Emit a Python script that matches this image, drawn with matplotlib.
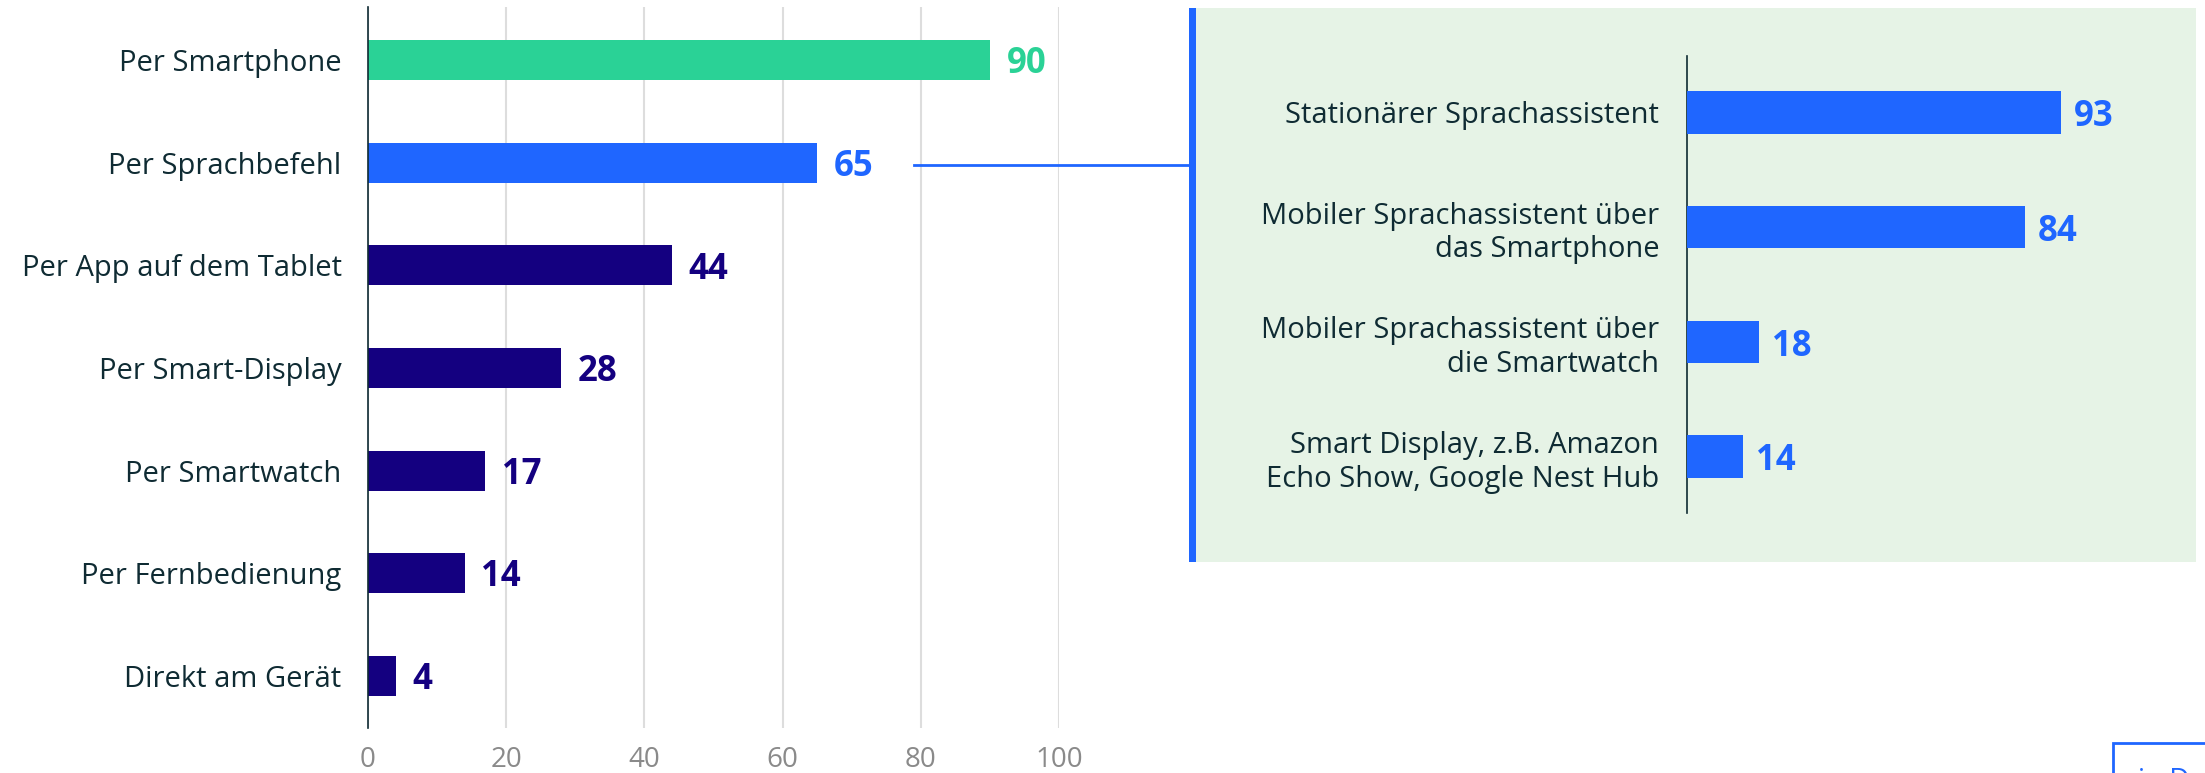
import matplotlib
matplotlib.use("Agg")
import matplotlib.pyplot as plt
from matplotlib.patches import Rectangle
from matplotlib.lines import Line2D

plt.rcParams['font.family'] = ['Open Sans', 'DejaVu Sans']

# ---- data ----
main_categories = ["Per Smartphone", "Per Sprachbefehl", "Per App auf dem Tablet",
                   "Per Smart-Display", "Per Smartwatch", "Per Fernbedienung",
                   "Direkt am Gerät"]
main_values = [90, 65, 44, 28, 17, 14, 4]
main_ticks = [0, 20, 40, 60, 80, 100]

inset_categories = ["Stationärer Sprachassistent",
                    "Mobiler Sprachassistent über\ndas Smartphone",
                    "Mobiler Sprachassistent über\ndie Smartwatch",
                    "Smart Display, z.B. Amazon\nEcho Show, Google Nest Hub"]
inset_values = [93, 84, 18, 14]

# ---- style ----
GREEN = "#2AD296"
BLUE = "#1F66FF"
NAVY = "#140080"
TEXT = "#0F2B33"
GRAY = "#8A8A8A"
GRID = "#DDDDDD"
PANEL = "#E6F3E6"

W, H = 2205, 773
fig = plt.figure(figsize=(W / 100, H / 100), dpi=100)

def fx(px):
    return px / W

def fy(py):
    return 1 - py / H

# ---- panel background ----
fig.patches.append(Rectangle((fx(1194), fy(562)), fx(2196 - 1194), (562 - 8) / H,
                             transform=fig.transFigure, facecolor=PANEL,
                             edgecolor='none', zorder=0))
fig.patches.append(Rectangle((fx(1189), fy(562)), fx(7), (562 - 8) / H,
                             transform=fig.transFigure, facecolor=BLUE,
                             edgecolor='none', zorder=1))
# connector line
fig.add_artist(Line2D([fx(914), fx(1190)], [fy(164.5), fy(164.5)],
                      transform=fig.transFigure, color=BLUE, linewidth=2,
                      zorder=6))

# ---- main axes ----
left, right, top, bottom = 368, 1059, 7, 728
ax = fig.add_axes([fx(left), fy(bottom), fx(right - left), (bottom - top) / H])
ax.set_zorder(5)
ax.patch.set_visible(False)
colors = [GREEN, BLUE] + [NAVY] * (len(main_values) - 2)
ypos = list(range(len(main_values)))
ax.barh(ypos, main_values, height=0.39, color=colors, zorder=3)
ax.set_ylim(len(main_values) - 0.49, -0.52)
ax.set_xlim(0, 100)
ax.set_xticks(main_ticks)
ax.set_xticklabels([str(t) for t in main_ticks], color=GRAY, fontsize=20)
ax.tick_params(axis='x', length=0, pad=13)
ax.set_yticks(ypos)
ax.set_yticklabels(main_categories, color=TEXT, fontsize=21)
ax.tick_params(axis='y', length=0, pad=19)
ax.grid(axis='x', color=GRID, linewidth=1.5, zorder=0)
for s in ['top', 'right', 'bottom']:
    ax.spines[s].set_visible(False)
ax.spines['left'].set_color(TEXT)
ax.spines['left'].set_linewidth(1.2)
ax.spines['left'].set_zorder(4)
for y, v, c in zip(ypos, main_values, colors):
    ax.text(v + 2.4, y + 0.04, str(v), color=c, fontsize=25, fontweight='bold',
            va='center', ha='left', clip_on=False)

# ---- inset axes ----
ileft, itop, ibottom = 1687, 56, 513
px_per_unit = (2061 - 1687) / 93
iright = 2150
ax2 = fig.add_axes([fx(ileft), fy(ibottom), fx(iright - ileft), (ibottom - itop) / H])
ax2.set_zorder(5)
ax2.patch.set_visible(False)
iy = list(range(len(inset_values)))
ax2.barh(iy, inset_values, height=0.37, color=BLUE, zorder=3)
ax2.set_xlim(0, (iright - ileft) / px_per_unit)
ax2.set_ylim(len(inset_values) - 0.51, -0.49)
ax2.set_xticks([])
ax2.set_yticks(iy)
ax2.set_yticklabels(inset_categories, color=TEXT, fontsize=21, linespacing=1.2)
ax2.tick_params(axis='y', length=0, pad=20)
for s in ['top', 'right', 'bottom']:
    ax2.spines[s].set_visible(False)
ax2.spines['left'].set_color(TEXT)
ax2.spines['left'].set_linewidth(1.2)
for y, v in zip(iy, inset_values):
    ax2.text(v + 3.2, y + 0.04, str(v), color=BLUE, fontsize=25, fontweight='bold',
             va='center', ha='left', clip_on=False)

# ---- cut-off button at bottom right ----
fig.patches.append(Rectangle((fx(2113), fy(790)), fx(200), (790 - 743) / H,
                             transform=fig.transFigure, facecolor='white',
                             edgecolor=BLUE, linewidth=2, zorder=2))
fig.text(fx(2138), fy(767), "in Deutschland", color=BLUE, fontsize=20,
         va='top', ha='left')

fig.savefig("out.png", dpi=100)
